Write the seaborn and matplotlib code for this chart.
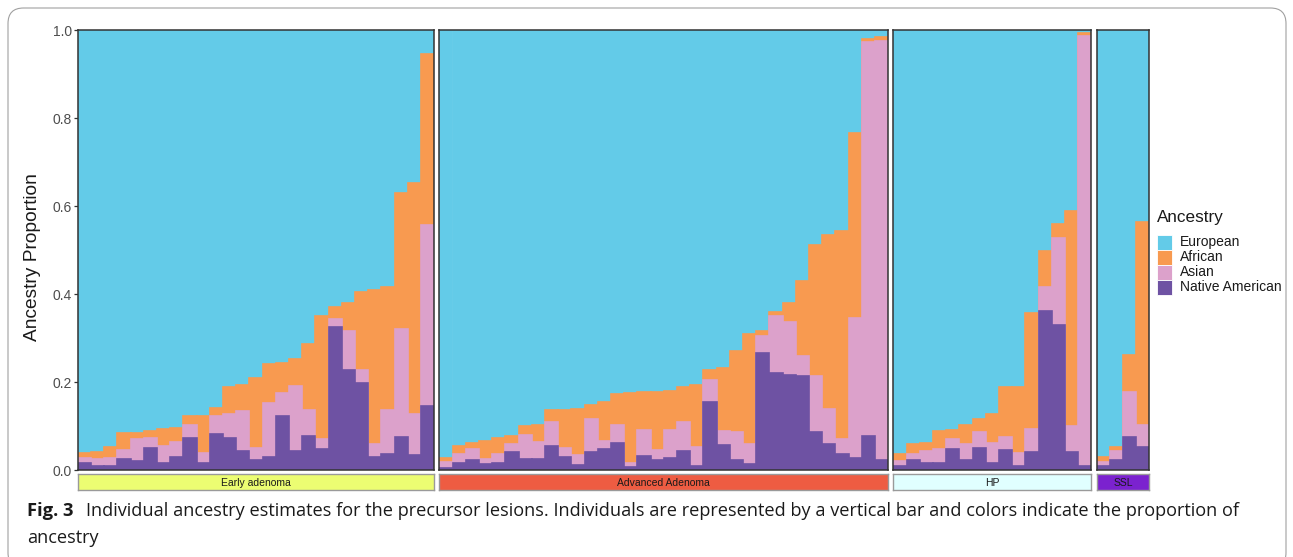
import numpy as np
import pandas as pd
import matplotlib
matplotlib.use('Agg')
from matplotlib import pyplot as plt
from matplotlib.patches import Rectangle, FancyBboxPatch
import seaborn as sns

# lesion groups shown as facets, with strip colours
groups = ['Early adenoma', 'Advanced Adenoma', 'HP', 'SSL']
strip_colors = ['#ECFD72', '#EE5C42', '#E0FFFF', '#7B22CF']

ancestries = ['European', 'African', 'Asian', 'Native American']
palette = {'European': '#63CBE8', 'African': '#F89A50',
           'Asian': '#DCA1CB', 'Native American': '#6E52A3'}

# per-individual ancestry proportions
early_native = [0.017, 0.009, 0.010, 0.024, 0.021, 0.051, 0.016, 0.030, 0.072, 0.017, 0.082, 0.072, 0.043, 0.023,
                0.030, 0.122, 0.044, 0.077, 0.048, 0.325, 0.228, 0.198, 0.030, 0.036, 0.075, 0.033, 0.145]
early_asian = [0.010, 0.017, 0.017, 0.021, 0.049, 0.021, 0.038, 0.033, 0.030, 0.022, 0.041, 0.055, 0.091, 0.026,
               0.123, 0.054, 0.148, 0.059, 0.022, 0.018, 0.089, 0.029, 0.029, 0.100, 0.245, 0.094, 0.412]
early_african = [0.011, 0.015, 0.025, 0.039, 0.014, 0.017, 0.039, 0.033, 0.020, 0.083, 0.019, 0.061, 0.060, 0.159,
                 0.087, 0.068, 0.060, 0.150, 0.279, 0.027, 0.063, 0.177, 0.351, 0.280, 0.309, 0.526, 0.388]
early_european = [0.962, 0.959, 0.948, 0.916, 0.916, 0.911, 0.907, 0.904, 0.878, 0.878, 0.858, 0.812, 0.806, 0.792,
                  0.760, 0.756, 0.748, 0.714, 0.651, 0.630, 0.620, 0.596, 0.590, 0.584, 0.371, 0.347, 0.055]

adv_native = [0.005, 0.017, 0.022, 0.013, 0.017, 0.042, 0.025, 0.025, 0.055, 0.029, 0.011, 0.040, 0.048, 0.061,
              0.007, 0.031, 0.023, 0.028, 0.043, 0.008, 0.155, 0.056, 0.023, 0.014, 0.267, 0.220, 0.217, 0.213,
              0.086, 0.060, 0.037, 0.027, 0.078, 0.023]
adv_asian = [0.014, 0.019, 0.026, 0.012, 0.019, 0.016, 0.055, 0.039, 0.054, 0.021, 0.024, 0.075, 0.019, 0.042,
             0.010, 0.059, 0.022, 0.063, 0.065, 0.045, 0.050, 0.033, 0.063, 0.045, 0.038, 0.129, 0.119, 0.045,
             0.128, 0.079, 0.033, 0.319, 0.894, 0.953]
adv_african = [0.008, 0.019, 0.013, 0.042, 0.036, 0.019, 0.019, 0.038, 0.027, 0.086, 0.104, 0.032, 0.088, 0.069,
               0.158, 0.087, 0.133, 0.088, 0.081, 0.141, 0.022, 0.142, 0.184, 0.249, 0.012, 0.009, 0.044, 0.172,
               0.298, 0.394, 0.474, 0.420, 0.008, 0.008]
adv_european = [0.973, 0.945, 0.939, 0.933, 0.928, 0.923, 0.901, 0.898, 0.864, 0.864, 0.861, 0.853, 0.845, 0.828,
                0.825, 0.823, 0.822, 0.821, 0.811, 0.806, 0.773, 0.769, 0.730, 0.692, 0.683, 0.642, 0.620, 0.570,
                0.488, 0.467, 0.456, 0.234, 0.020, 0.016]

hp_native = [0.010, 0.023, 0.017, 0.015, 0.048, 0.023, 0.049, 0.015, 0.046, 0.010, 0.040, 0.362, 0.330, 0.040, 0.010]
hp_asian = [0.011, 0.013, 0.026, 0.033, 0.022, 0.035, 0.037, 0.047, 0.030, 0.029, 0.053, 0.055, 0.198, 0.061, 0.976]
hp_african = [0.015, 0.022, 0.019, 0.041, 0.022, 0.044, 0.031, 0.065, 0.113, 0.150, 0.263, 0.081, 0.030, 0.488, 0.007]
hp_european = [0.964, 0.942, 0.938, 0.911, 0.908, 0.898, 0.883, 0.873, 0.811, 0.811, 0.644, 0.502, 0.442, 0.411, 0.007]

ssl_native = [0.008, 0.023, 0.074, 0.052]
ssl_asian = [0.011, 0.021, 0.104, 0.050]
ssl_african = [0.011, 0.009, 0.083, 0.462]
ssl_european = [0.970, 0.947, 0.739, 0.436]

data = {
    'Early adenoma': (early_european, early_african, early_asian, early_native),
    'Advanced Adenoma': (adv_european, adv_african, adv_asian, adv_native),
    'HP': (hp_european, hp_african, hp_asian, hp_native),
    'SSL': (ssl_european, ssl_african, ssl_asian, ssl_native),
}

sns.set_theme(style='white')
plt.rcParams['font.family'] = ['Liberation Sans', 'DejaVu Sans']

W, H = 1293, 557
fig = plt.figure(figsize=(W / 100, H / 100), dpi=100)


def rect(x0, y0, x1, y1):
    # pixel box (top-left origin) -> figure fraction
    return [x0 / W, 1 - y1 / H, (x1 - x0) / W, (y1 - y0) / H]


bar_px = 13.2
gap_px = 5.2
x = 77.7
for gi, g in enumerate(groups):
    eur, afr, asi, nat = data[g]
    n = len(eur)
    df = pd.DataFrame({'Native American': nat, 'Asian': asi, 'African': afr, 'European': eur})
    df['idx'] = np.arange(n)
    tops = df[['Native American', 'Asian', 'African', 'European']].cumsum(axis=1)

    ax = fig.add_axes(rect(x, 30, x + n * bar_px, 470))
    for anc in ancestries:
        sns.barplot(x=df['idx'], y=tops[anc], color=palette[anc], width=1, saturation=1,
                    linewidth=1.2, edgecolor=palette[anc], errorbar=None, ax=ax)
    ax.set_xlim(-0.5, n - 0.5)
    ax.set_ylim(0, 1)
    ax.set_xlabel('')
    ax.set_ylabel('')
    ax.set_xticks([])
    for s in ax.spines.values():
        s.set_color('#333333')
        s.set_linewidth(1.1)
        s.set_zorder(5)
    if gi == 0:
        ax.set_yticks([0, 0.2, 0.4, 0.6, 0.8, 1.0])
        ax.set_yticklabels(['0.0', '0.2', '0.4', '0.6', '0.8', '1.0'], color='#4D4D4D', fontsize=10)
        ax.tick_params(axis='y', left=True, length=3, width=0.9, color='#333333', pad=1)
    else:
        ax.set_yticks([])

    # facet strip under each panel
    sax = fig.add_axes(rect(x, 474, x + n * bar_px, 490))
    sax.set_facecolor(strip_colors[gi])
    sax.set_xticks([])
    sax.set_yticks([])
    for s in sax.spines.values():
        s.set_color('#9A9A9A')
        s.set_linewidth(1.0)
    sax.text(0.5, 0.45, g, ha='center', va='center', fontsize=7.5, color='#1A1A1A', transform=sax.transAxes)

    x += n * bar_px + gap_px

fig.text(33 / W, 1 - 257 / H, 'Ancestry Proportion', rotation=90, ha='center', va='center',
         fontsize=13.8, color='#1A1A1A')

# legend drawn by hand so keys sit where the reference has them
fig.text(1157 / W, 1 - 218 / H, 'Ancestry', fontsize=12.3, color='#1A1A1A', va='center', ha='left')
for i, anc in enumerate(ancestries):
    yc = 242 + 15 * i
    fig.patches.append(Rectangle((1157 / W, 1 - (yc + 7.5) / H), 15 / W, 15 / H,
                                 transform=fig.transFigure, facecolor=palette[anc], edgecolor='white',
                                 linewidth=0.6))
    fig.text(1180 / W, 1 - yc / H, anc, fontsize=10, color='#1A1A1A', va='center', ha='left')

cap_font = ['Open Sans', 'DejaVu Sans']
fig.text(27 / W, 1 - 511 / H, 'Fig. 3', fontsize=13.2, fontweight='bold', family=cap_font,
         va='center', color='#1A1A1A')
fig.text(86 / W, 1 - 511 / H,
         'Individual ancestry estimates for the precursor lesions. Individuals are represented by a vertical '
         'bar and colors indicate the proportion of', fontsize=13.1, family=cap_font, va='center', color='#1A1A1A')
fig.text(27 / W, 1 - 538 / H, 'ancestry', fontsize=13.1, family=cap_font, va='center', color='#1A1A1A')

# rounded frame around the figure
frame = FancyBboxPatch((8 / W, -0.02), 1278 / W, 1 - 8 / H + 0.02,
                       boxstyle='round,pad=0,rounding_size=0.012', transform=fig.transFigure,
                       facecolor='none', edgecolor='#A0A0A0', linewidth=0.8, mutation_aspect=W / H)
fig.patches.append(frame)

fig.savefig('out.png', dpi=100)
